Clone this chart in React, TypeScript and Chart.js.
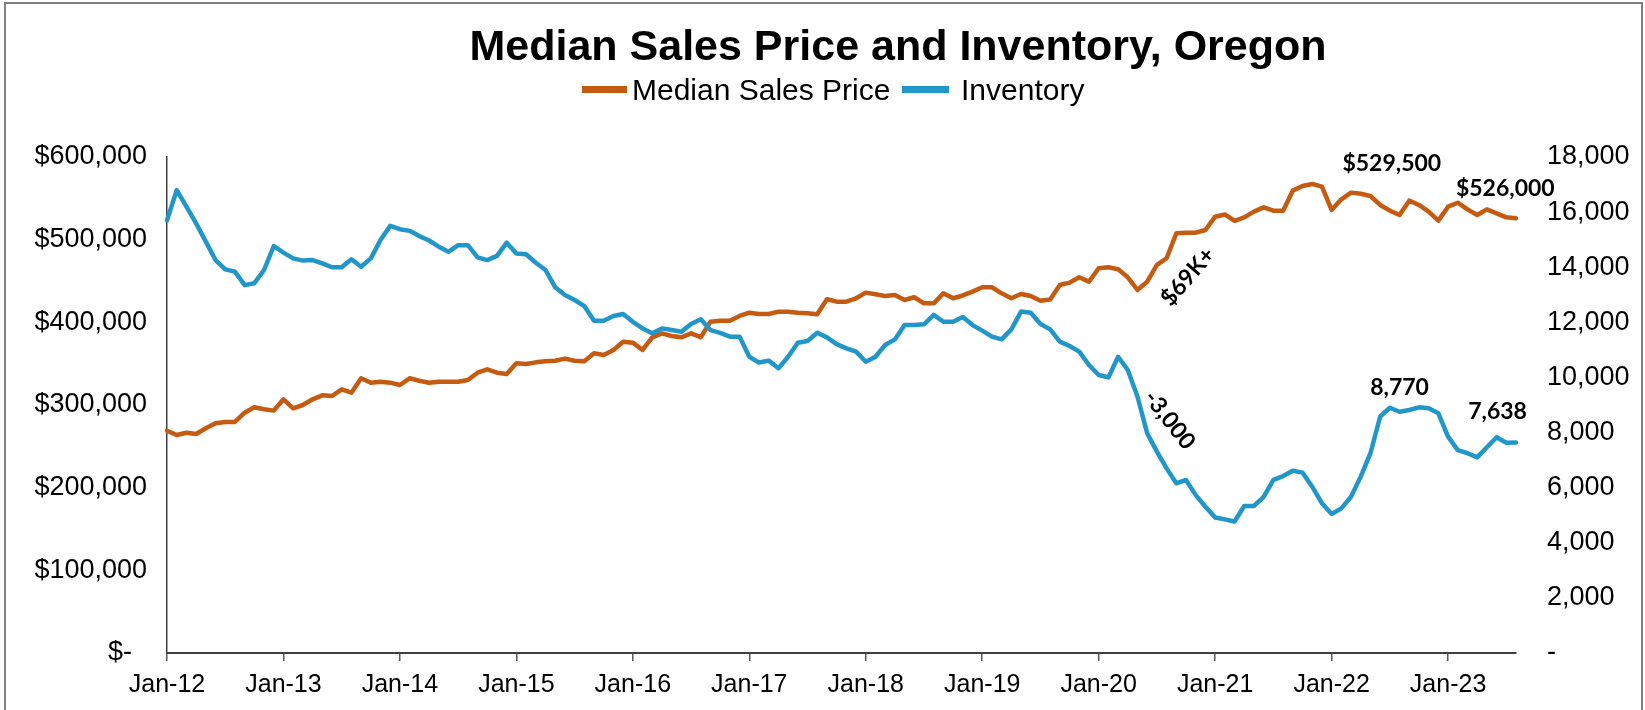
import React, { useEffect, useRef } from "react";
import { Chart, registerables } from "chart.js";

Chart.register(...registerables);

const MONTHS = ["Jan", "Feb", "Mar", "Apr", "May", "Jun", "Jul", "Aug", "Sep", "Oct", "Nov", "Dec"];
const YEARS = ["12", "13", "14", "15", "16", "17", "18", "19", "20", "21", "22", "23"];
const categories: string[] = [];
YEARS.forEach((y) => MONTHS.forEach((m) => categories.push(`${m}-${y}`)));
categories.length = 140; // Jan-12 .. Aug-23

const priceValues = [
  268900, 263700, 266500, 264900, 271800, 277900, 279500, 279500, 290700, 297200, 294800, 293200,
  306900, 296000, 300000, 306900, 311700, 310900, 319000, 314900, 332300, 327000, 328200, 327000,
  324200, 332300, 329400, 327000, 328200, 328200, 328200, 330300, 339100, 343200, 339100, 337500,
  350500, 349600, 351600, 352900, 353600, 356100, 353600, 352900, 362500, 360500, 366600, 376600,
  375400, 366600, 381900, 386700, 383500, 381900, 386700, 382000, 400800, 402000, 402000, 407700,
  411700, 410100, 410100, 412900, 412900, 411700, 410900, 409700, 427900, 425000, 425000, 429100,
  435900, 433900, 431900, 433100, 427000, 430300, 423000, 423000, 435100, 429100, 432500, 437100,
  442400, 442400, 435100, 429100, 434300, 431900, 426200, 427600, 445200, 448000, 454500, 449200,
  465400, 466600, 464200, 454500, 439100, 449200, 469400, 477500, 507700, 508500, 508500, 511700,
  527800, 530500, 522800, 527000, 533900, 539100, 535100, 535100, 559300, 564900, 567400, 564100,
  535900, 548800, 556900, 555600, 552800, 542000, 535100, 529900, 547200, 542000, 533900, 523000,
  539900, 544700, 536700, 529900, 536700, 531900, 527000, 526000,
];

const inventoryValues = [
  15700, 16800, 16200, 15590, 14930, 14260, 13920, 13840, 13350, 13420, 13900, 14770,
  14530, 14320, 14240, 14260, 14140, 14000, 14000, 14290, 14020, 14320, 14990, 15500,
  15380, 15320, 15130, 14970, 14745, 14560, 14800, 14800, 14360, 14260, 14410, 14890,
  14500, 14470, 14165, 13900, 13270, 12990, 12810, 12590, 12060, 12060, 12230, 12300,
  12020, 11780, 11600, 11780, 11720, 11660, 11940, 12110, 11720, 11620, 11480, 11480,
  10750, 10540, 10610, 10330, 10750, 11260, 11320, 11620, 11455, 11210, 11055, 10935,
  10570, 10750, 11180, 11380, 11900, 11900, 11930, 12270, 12020, 12020, 12190, 11900,
  11700, 11480, 11380, 11745, 12390, 12350, 11940, 11745, 11300, 11140, 10935, 10450,
  10090, 10000, 10750, 10270, 9300, 7970, 7310, 6700, 6160, 6280, 5730, 5310,
  4920, 4850, 4770, 5335, 5335, 5670, 6280, 6420, 6615, 6545, 6035, 5435,
  5045, 5250, 5670, 6400, 7250, 8575, 8900, 8755, 8820, 8915, 8880, 8700,
  7850, 7365, 7250, 7100, 7465, 7830, 7633, 7638,
];

const TITLE = "Median Sales Price and Inventory, Oregon";
const seriesNames = ["Median Sales Price", "Inventory"];
const seriesColors = ["#C55A11", "#2196C9"];

// annotation labels: text, category position, axis, value, rotation (deg)
const annotationTexts = ["$529,500", "$526,000", "8,770", "7,638", "$69K+", "-3,000"];
const annotationIndex = [126.2, 137.9, 127.0, 137.1, 105.2, 103.3];
const annotationAxis = ["yPrice", "yPrice", "yInv", "yInv", "yPrice", "yInv"];
const annotationValue = [591500, 561300, 9617, 8746, 455300, 8456];
const annotationAngle = [0, 0, 0, 0, -49, 52];

const SANS = '"Liberation Sans", Arial, sans-serif';
const ANNO = 'Lato, "Open Sans", sans-serif';

const overlayPlugin = {
  id: "overlay",
  beforeDraw(chart: any) {
    const ctx = chart.ctx;
    ctx.save();
    ctx.fillStyle = "#ffffff";
    ctx.fillRect(0, 0, chart.width, chart.height);
    ctx.strokeStyle = "#7f7f7f";
    ctx.lineWidth = 2;
    ctx.beginPath();
    ctx.moveTo(5, chart.height + 2);
    ctx.lineTo(5, 3);
    ctx.lineTo(1642, 3);
    ctx.lineTo(1642, chart.height + 2);
    ctx.stroke();
    ctx.restore();
  },
  afterDraw(chart: any) {
    const ctx = chart.ctx;
    ctx.save();
    // Title
    ctx.fillStyle = "#000";
    ctx.font = `bold 43px ${SANS}`;
    ctx.textAlign = "center";
    ctx.textBaseline = "alphabetic";
    ctx.fillText(TITLE, 898, 60);

    // Legend
    ctx.font = `30px ${SANS}`;
    ctx.textAlign = "left";
    ctx.fillStyle = seriesColors[0];
    ctx.fillRect(582, 86, 45, 7);
    ctx.fillStyle = "#000";
    ctx.fillText(seriesNames[0], 632, 100);
    ctx.fillStyle = seriesColors[1];
    ctx.fillRect(902, 86, 47, 7);
    ctx.fillStyle = "#000";
    ctx.fillText(seriesNames[1], 961, 100);

    // Annotations
    ctx.font = `bold 23px ${ANNO}`;
    ctx.textAlign = "center";
    ctx.textBaseline = "middle";
    const xs = chart.scales.x;
    annotationTexts.forEach((t, i) => {
      const x = xs.getPixelForValue(annotationIndex[i]);
      const y = chart.scales[annotationAxis[i]].getPixelForValue(annotationValue[i]);
      ctx.save();
      ctx.translate(x, y);
      ctx.rotate((annotationAngle[i] * Math.PI) / 180);
      ctx.fillStyle = "#000";
      ctx.fillText(t, 0, 0);
      ctx.restore();
    });
    ctx.restore();
  },
};

export default function App() {
  const ref = useRef<HTMLCanvasElement | null>(null);

  useEffect(() => {
    if (!ref.current) return;
    const chart = new Chart(ref.current, {
      type: "line",
      data: {
        labels: categories,
        datasets: [
          {
            label: seriesNames[0],
            data: priceValues,
            yAxisID: "yPrice",
            borderColor: seriesColors[0],
            backgroundColor: seriesColors[0],
            borderWidth: 4.5,
            pointRadius: 0,
            tension: 0,
            borderJoinStyle: "round",
            borderCapStyle: "round",
            order: 1,
          },
          {
            label: seriesNames[1],
            data: inventoryValues,
            yAxisID: "yInv",
            borderColor: seriesColors[1],
            backgroundColor: seriesColors[1],
            borderWidth: 4.5,
            pointRadius: 0,
            tension: 0,
            borderJoinStyle: "round",
            borderCapStyle: "round",
            order: 0,
          },
        ],
      },
      options: {
        responsive: false,
        animation: false,
        devicePixelRatio: 1,
        layout: { padding: { top: 157, left: 0, right: 0, bottom: 0 } },
        plugins: {
          legend: { display: false },
          title: { display: false },
          tooltip: { enabled: false },
        },
        scales: {
          x: {
            type: "category",
            afterFit: (s: any) => {
              s.height = 57;
            },
            grid: {
              display: true,
              drawOnChartArea: false,
              drawTicks: true,
              tickLength: 8,
              lineWidth: 1.5,
              color: (c: any) => (c.index % 12 === 0 ? "#595959" : "rgba(0,0,0,0)"),
            },
            border: { display: true, color: "#404040", width: 2 },
            ticks: {
              autoSkip: false,
              maxRotation: 0,
              minRotation: 0,
              padding: 9,
              color: "#000",
              font: { family: SANS, size: 25 },
              callback: (_v: any, i: number) => (i % 12 === 0 ? categories[i] : ""),
            },
          },
          yPrice: {
            type: "linear",
            position: "left",
            min: 0,
            max: 600000,
            afterFit: (s: any) => {
              s.width = 167;
            },
            grid: { display: false, drawTicks: false },
            border: { display: true, color: "#404040", width: 1.5 },
            ticks: {
              stepSize: 100000,
              padding: 20,
              color: "#000",
              font: { family: SANS, size: 27 },
              callback: (v: any) => (v === 0 ? "$-  " : "$" + Number(v).toLocaleString("en-US")),
            },
          },
          yInv: {
            type: "linear",
            position: "right",
            min: 0,
            max: 18000,
            afterFit: (s: any) => {
              s.width = 129;
            },
            grid: { display: false, drawTicks: false },
            border: { display: false },
            ticks: {
              stepSize: 2000,
              padding: 31,
              color: "#000",
              font: { family: SANS, size: 27 },
              callback: (v: any) => (v === 0 ? "-" : Number(v).toLocaleString("en-US")),
            },
          },
        },
      },
      plugins: [overlayPlugin],
    });
    return () => chart.destroy();
  }, []);

  return (
    <div style={{ position: "fixed", left: 0, top: 0, width: 1645, height: 710, background: "#fff" }}>
      <canvas ref={ref} width={1645} height={710} style={{ display: "block", width: 1645, height: 710 }} />
    </div>
  );
}
